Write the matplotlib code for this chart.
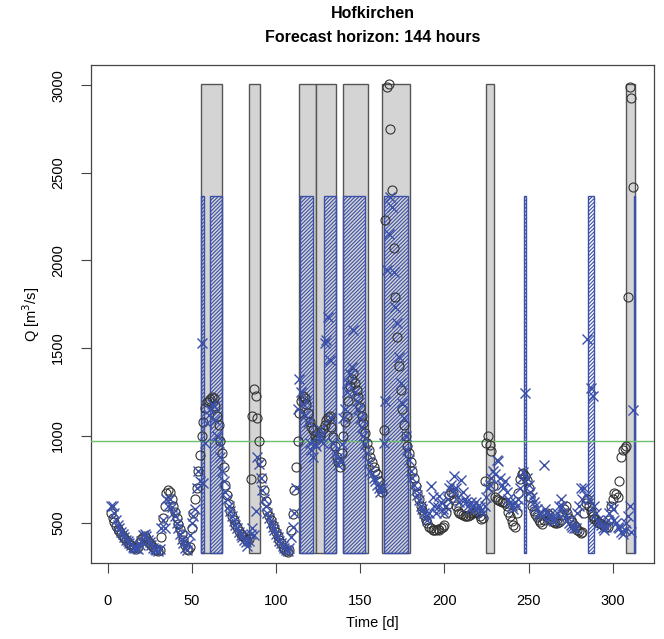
import numpy as np
import matplotlib.pyplot as plt
from matplotlib.patches import Rectangle

plt.rcParams['font.family'] = ['Liberation Sans', 'DejaVu Sans']
plt.rcParams['hatch.linewidth'] = 0.8

# daily series, day 2 .. 312
days = np.arange(2, 313)

q_obs = [
    560, 530, 505, 485, 468, 455, 440, 428, 415, 403,
    392, 382, 372, 362, 355, 350, 365, 390, 410, 420,
    425, 415, 400, 385, 372, 362, 352, 345, 340, 345,
    420, 530, 600, 670, 690, 680, 640, 600, 565, 530,
    495, 465, 435, 405, 375, 350, 345, 365, 470, 560,
    640, 700, 800, 890, 1000, 1080, 1160, 1190, 1200, 1210,
    1220, 1215, 1170, 1110, 1060, 970, 900, 820, 720, 660,
    610, 570, 540, 515, 495, 475, 455, 440, 428, 418,
    408, 400, 410, 750, 1110, 1265, 1225, 1100, 966, 850,
    760, 690, 625, 570, 540, 515, 490, 470, 450, 425,
    405, 385, 365, 350, 340, 335, 345, 460, 550, 690,
    820, 970, 1130, 1200, 1225, 1215, 1180, 1130, 1080, 1050,
    1030, 1000, 975, 985, 995, 1020, 1040, 1060, 1090, 1105,
    1110, 1050, 990, 940, 880, 850, 820, 900, 1000, 1080,
    1110, 1200, 1280, 1320, 1355, 1300, 1260, 1220, 1165, 1110,
    1070, 1015, 960, 920, 880, 850, 820, 800, 780, 740,
    700, 680, 1030, 2230, 2990, 3010, 2750, 2400, 2070, 1790,
    1565, 1395, 1260, 1150, 1060, 995, 940, 900, 850, 800,
    755, 710, 670, 635, 600, 575, 545, 520, 500, 480,
    470, 462, 460, 462, 465, 462, 470, 480, 490, 560,
    610, 660, 680, 670, 630, 595, 570, 555, 550, 545,
    540, 538, 542, 548, 555, 560, 565, 562, 555, 540,
    525, 530, 740, 960, 995, 945, 910, 710, 650, 640,
    633, 628, 622, 618, 612, 595, 566, 538, 510, 490,
    480, 560, 670, 750, 780, 785, 770, 745, 700, 650,
    600, 570, 550, 535, 520, 505, 495, 520, 550, 560,
    545, 525, 512, 505, 500, 498, 505, 520, 545, 580,
    595, 560, 530, 518, 505, 490, 475, 462, 452, 445,
    450, 555, 615, 640, 600, 570, 540, 525, 515, 505,
    500, 492, 488, 482, 478, 475, 520, 595, 640, 670,
    665, 650, 740, 880, 915, 930, 940, 1790, 2990, 2930,
    2420,
]

q_fc = [
    595, 600, 560, 520, 490, 470, 450, 435, 420, 405,
    395, 385, 375, 365, 360, 355, 350, 375, 400, 430,
    440, 425, 405, 390, 375, 360, 350, 345, 340, 350,
    470, 520, 470, 640, 600, 640, 590, 560, 540, 500,
    470, 440, 410, 385, 360, 345, 380, 430, 500, 540,
    580, 700, 800, 740, 1527, 730, 960, 1070, 1120, 1150,
    1180, 1170, 1090, 1000, 960, 880, 800, 740, 680, 640,
    600, 570, 540, 510, 490, 470, 450, 430, 420, 405,
    390, 370, 400, 440, 470, 430, 570, 880, 840, 760,
    690, 640, 600, 560, 530, 500, 480, 460, 440, 420,
    400, 385, 370, 355, 345, 340, 360, 420, 480, 560,
    700, 1150, 1320, 1250, 1180, 1120, 1200, 1080, 960, 920,
    880, 950, 940, 1000, 1040, 1000, 960, 1527, 1546, 1679,
    1432, 1100, 960, 900, 870, 830, 860, 950, 1100, 1150,
    1250, 1300, 1350, 1394, 1603, 1250, 1200, 1150, 1100, 1050,
    1000, 950, 900, 850, 800, 780, 760, 740, 720, 700,
    680, 700, 960, 1200, 1946, 2150, 2364, 2307, 1936, 1736,
    1641, 1450, 1299, 1185, 1100, 1000, 920, 860, 800, 760,
    720, 690, 660, 630, 600, 580, 560, 540, 520, 560,
    709, 650, 600, 560, 590, 652, 620, 580, 560, 600,
    640, 700, 720, 690, 766, 700, 650, 620, 747, 680,
    640, 620, 600, 580, 620, 600, 580, 620, 600, 590,
    570, 560, 600, 650, 700, 720, 760, 800, 780, 861,
    852, 760, 720, 700, 740, 680, 640, 620, 600, 580,
    620, 600, 640, 700, 760, 790, 1242, 760, 720, 680,
    650, 620, 600, 580, 560, 550, 540, 833, 580, 560,
    540, 530, 520, 510, 530, 560, 600, 640, 600, 560,
    540, 520, 500, 490, 480, 470, 470, 560, 600, 700,
    640, 700, 660, 1550, 640, 1270, 1223, 600, 560, 520,
    500, 490, 470, 460, 480, 520, 560, 600, 580, 520,
    500, 480, 470, 450, 440, 460, 500, 540, 600, 450,
    1147,
]

# alarm periods: observed exceedance (grey) and forecast exceedance (hatched)
obs_periods = [(55.5, 68), (84, 90.5), (113.5, 124), (124, 135.5), (140, 154.5),
               (163, 179.5), (225, 229.5), (308, 313)]
fc_periods = [(55.5, 57.5), (61, 68), (114.5, 122), (128.5, 135.5), (140, 153),
              (164, 178.5), (247.5, 248.5), (285.5, 289), (312.5, 313)]
obs_band = (330, 3010)
fc_band = (330, 2370)
threshold = 970

blue = '#3b50a8'

fig = plt.figure(figsize=(6.64, 6.39), dpi=100)
ax = fig.add_axes([91 / 664, 1 - 563 / 639, (654 - 91) / 664, (563 - 65) / 639])

for x0, x1 in obs_periods:
    ax.add_patch(Rectangle((x0, obs_band[0]), x1 - x0, obs_band[1] - obs_band[0],
                           facecolor='#d4d4d4', edgecolor='#555555', lw=1.0, zorder=1))
for x0, x1 in fc_periods:
    ax.add_patch(Rectangle((x0, fc_band[0]), x1 - x0, fc_band[1] - fc_band[0],
                           facecolor='none', edgecolor=blue, hatch='/////////', lw=1.0, zorder=2))

ax.axhline(threshold, color='#6cbf6c', lw=1.0, zorder=3)

ax.plot(days, q_obs, 'o', mfc='none', mec='#333333', ms=6.5, mew=0.8, zorder=4)
ax.plot(days, q_fc, 'x', color=blue, ms=6.5, mew=1.0, zorder=5)

ax.set_xlim(-9.8, 324.5)
ax.set_ylim(272, 3116)
ax.set_xticks([0, 50, 100, 150, 200, 250, 300])
ax.set_yticks([500, 1000, 1500, 2000, 2500, 3000])
ax.tick_params(direction='out', length=7, width=0.8, color='#444444', labelsize=10.5)
ax.tick_params(axis='x', pad=15)
ax.tick_params(axis='y', pad=11.5)
for lab in ax.get_yticklabels():
    lab.set_rotation(90)
    lab.set_va('center')
for s in ax.spines.values():
    s.set_color('#444444')
    s.set_linewidth(0.9)

ax.set_xlabel('Time [d]', fontsize=10.5, labelpad=6)
ax.set_ylabel('Q [m$^3$/s]', fontsize=10.5, labelpad=6.5)

# two-line bold title above the plot box
cx = (91 + 654) / 2 / 664
fig.text(cx, 1 - 13 / 639, 'Hofkirchen', ha='center', va='center',
         fontsize=11.5, fontweight='bold')
fig.text(cx, 1 - 37 / 639, 'Forecast horizon: 144 hours', ha='center', va='center',
         fontsize=11.5, fontweight='bold')

fig.savefig('out.png', dpi=100)
